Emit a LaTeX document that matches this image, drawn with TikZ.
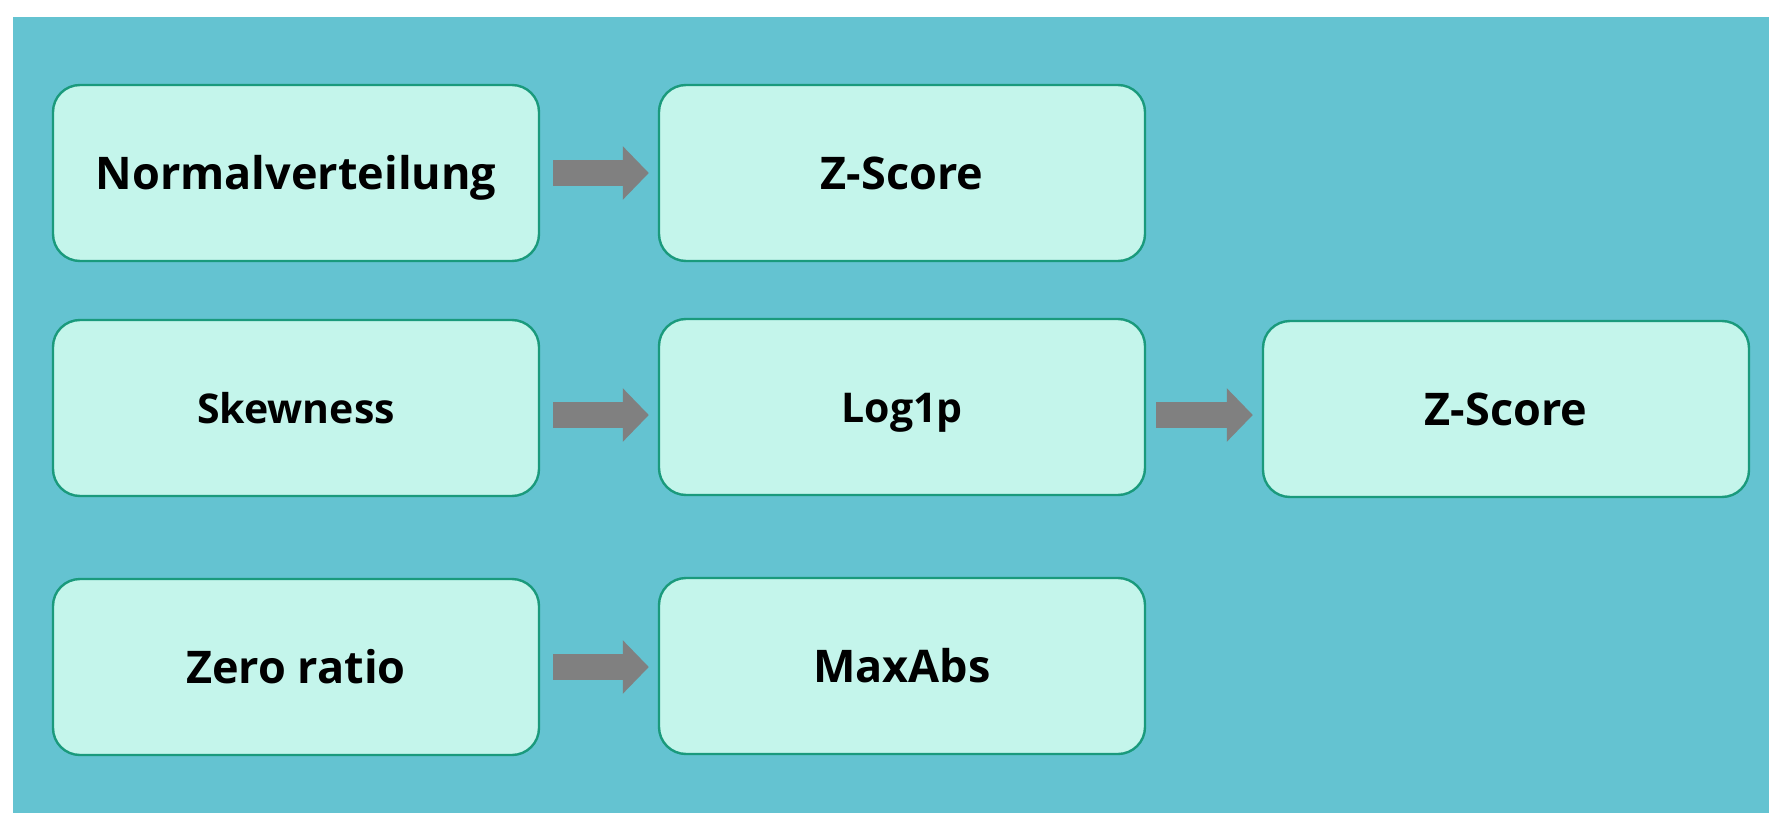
\documentclass[tikz,border=0pt]{standalone}
\usepackage{fontspec}
\setmainfont{Open Sans}
\usetikzlibrary{arrows.meta}
\definecolor{bgteal}{HTML}{64C3D1}
\definecolor{boxfill}{HTML}{C4F5EB}
\definecolor{boxline}{HTML}{1A9A7C}
\definecolor{arrgray}{HTML}{808080}
\tikzset{
  stepbox/.style={draw=boxline, fill=boxfill, line width=2.4pt, rounded corners=27pt,
    minimum width=486pt, minimum height=176pt, inner sep=0pt, align=center,
    font=\fontsize{45pt}{50pt}\selectfont\bfseries, text height=33pt, text depth=0pt},
  smalltext/.style={font=\fontsize{41pt}{46pt}\selectfont\bfseries, text height=30pt},
  flow/.style={arrgray, line width=26pt, -{Triangle[length=26pt,width=52pt]}}
}
\begin{document}
\begin{tikzpicture}[x=1pt,y=-1pt]
\useasboundingbox (0,0) rectangle (1769,813);
\fill[white] (0,0) rectangle (1769,813);
\fill[bgteal] (13,17) rectangle (1769,813);
\node[stepbox] (n1) at (296,173) {Normalverteilung};
\node[stepbox] (z1) at (902,173) {Z-Score};
\node[stepbox,smalltext] (sk) at (296,408) {Skewness};
\node[stepbox,smalltext] (lg) at (902,407) {Log1p};
\node[stepbox] (z2) at (1506,409) {Z-Score};
\node[stepbox] (zr) at (296,667) {Zero ratio};
\node[stepbox] (ma) at (902,666) {MaxAbs};
\coordinate (r2) at (296,415);
\draw[flow] ([xshift=13pt]n1.east) -- ([xshift=-9pt]z1.west);
\draw[flow, shorten <=13pt, shorten >=9pt] (r2 -| sk.east) -- (r2 -| lg.west);
\draw[flow, shorten <=10pt, shorten >=9pt] (r2 -| lg.east) -- (r2 -| z2.west);
\draw[flow, shorten <=13pt, shorten >=9pt] (zr.east) -- (zr.east -| ma.west);
\end{tikzpicture}
\end{document}
